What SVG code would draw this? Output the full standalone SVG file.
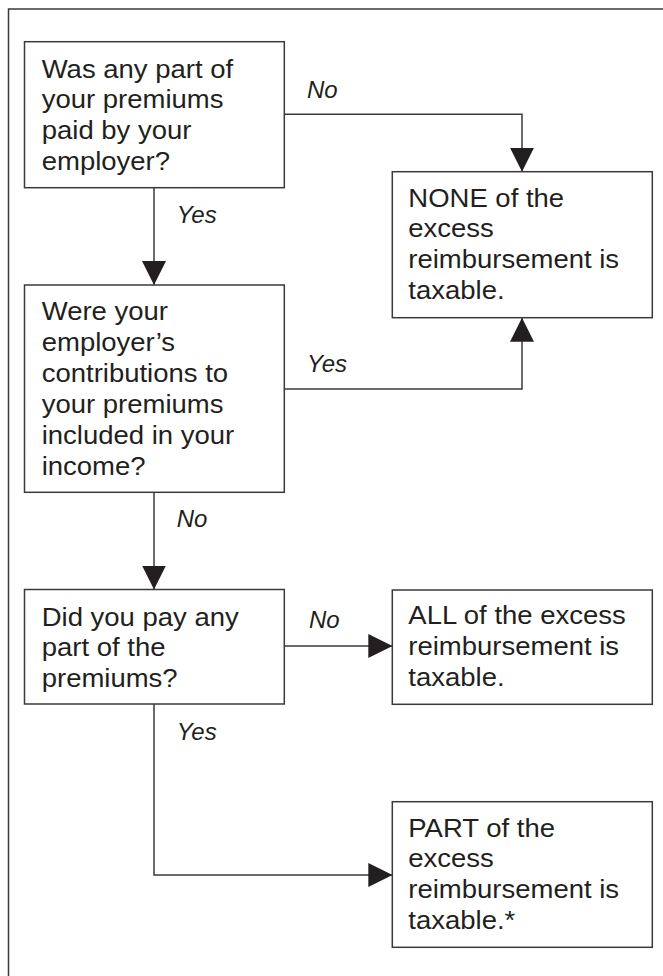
<svg xmlns="http://www.w3.org/2000/svg" width="663" height="976" viewBox="0 0 663 976">
<defs>
<style>
.box{fill:#fff;stroke:#3a3a3a;stroke-width:1.5}
.t{font-family:"Liberation Sans",Arial,Helvetica,sans-serif;font-size:25px;fill:#231f20}
.lbl{font-family:"Liberation Sans",Arial,Helvetica,sans-serif;font-size:24px;font-style:italic;fill:#231f20}
.ln{fill:none;stroke:#3a3a3a;stroke-width:1.5}
</style>
<marker id="ah" markerUnits="userSpaceOnUse" markerWidth="24" markerHeight="24" viewBox="0 0 23 23" refX="23" refY="11.5" orient="auto">
<path d="M0,0 L23,11.5 L0,23 Z" fill="#231f20"/>
</marker>
</defs>
<rect width="663" height="976" fill="#fff"/>
<path d="M8.5,976 V9 H663" fill="none" stroke="#3a3a3a" stroke-width="1.5"/>

<g id="connectors">
<path class="ln" d="M284.3,114.3 H522 V171.7" marker-end="url(#ah)"/>
<path class="ln" d="M154,187.7 V285" marker-end="url(#ah)"/>
<path class="ln" d="M284.3,389 H522 V317.7" marker-end="url(#ah)"/>
<path class="ln" d="M154,492.3 V589.5" marker-end="url(#ah)"/>
<path class="ln" d="M284.3,646 H392.3" marker-end="url(#ah)"/>
<path class="ln" d="M154,704 V875 H392.3" marker-end="url(#ah)"/>
<text class="lbl" x="307" y="98.3">No</text>
<text class="lbl" x="176.7" y="223">Yes</text>
<text class="lbl" x="307" y="371.7">Yes</text>
<text class="lbl" x="176.7" y="526.7">No</text>
<text class="lbl" x="309" y="628.3">No</text>
<text class="lbl" x="176.7" y="740">Yes</text>
</g>

<g id="q1">
<rect class="box" x="24.5" y="41.7" width="259.8" height="146"/>
<text class="t" transform="translate(41.7,77.7) scale(1.1,1)"><tspan x="0" y="0">Was any part of</tspan><tspan x="0" y="30.8">your premiums</tspan><tspan x="0" y="61.6">paid by your</tspan><tspan x="0" y="92.4">employer?</tspan></text>
</g>

<g id="none">
<rect class="box" x="392.3" y="171.7" width="260" height="146"/>
<text class="t" transform="translate(408.3,206.7) scale(1.1,1)"><tspan x="0" y="0">NONE of the</tspan><tspan x="0" y="30.8">excess</tspan><tspan x="0" y="61.6">reimbursement is</tspan><tspan x="0" y="92.4">taxable.</tspan></text>
</g>

<g id="q2">
<rect class="box" x="24.5" y="285" width="259.8" height="207.3"/>
<text class="t" transform="translate(41.7,320) scale(1.1,1)"><tspan x="0" y="0">Were your</tspan><tspan x="0" y="31">employer’s</tspan><tspan x="0" y="62">contributions to</tspan><tspan x="0" y="93">your premiums</tspan><tspan x="0" y="124">included in your</tspan><tspan x="0" y="155">income?</tspan></text>
</g>

<g id="q3">
<rect class="box" x="24.5" y="589.5" width="259.8" height="114.5"/>
<text class="t" transform="translate(41.7,625.7) scale(1.1,1)"><tspan x="0" y="0">Did you pay any</tspan><tspan x="0" y="30.8">part of the</tspan><tspan x="0" y="61.6">premiums?</tspan></text>
</g>

<g id="all">
<rect class="box" x="392.3" y="590" width="260" height="114.3"/>
<text class="t" transform="translate(408.3,623.8) scale(1.1,1)"><tspan x="0" y="0">ALL of the excess</tspan><tspan x="0" y="31">reimbursement is</tspan><tspan x="0" y="62">taxable.</tspan></text>
</g>

<g id="part">
<rect class="box" x="392.3" y="801.7" width="260" height="145.6"/>
<text class="t" transform="translate(408.3,836.7) scale(1.1,1)"><tspan x="0" y="0">PART of the</tspan><tspan x="0" y="30.8">excess</tspan><tspan x="0" y="61.6">reimbursement is</tspan><tspan x="0" y="92.4">taxable.*</tspan></text>
</g>
</svg>
